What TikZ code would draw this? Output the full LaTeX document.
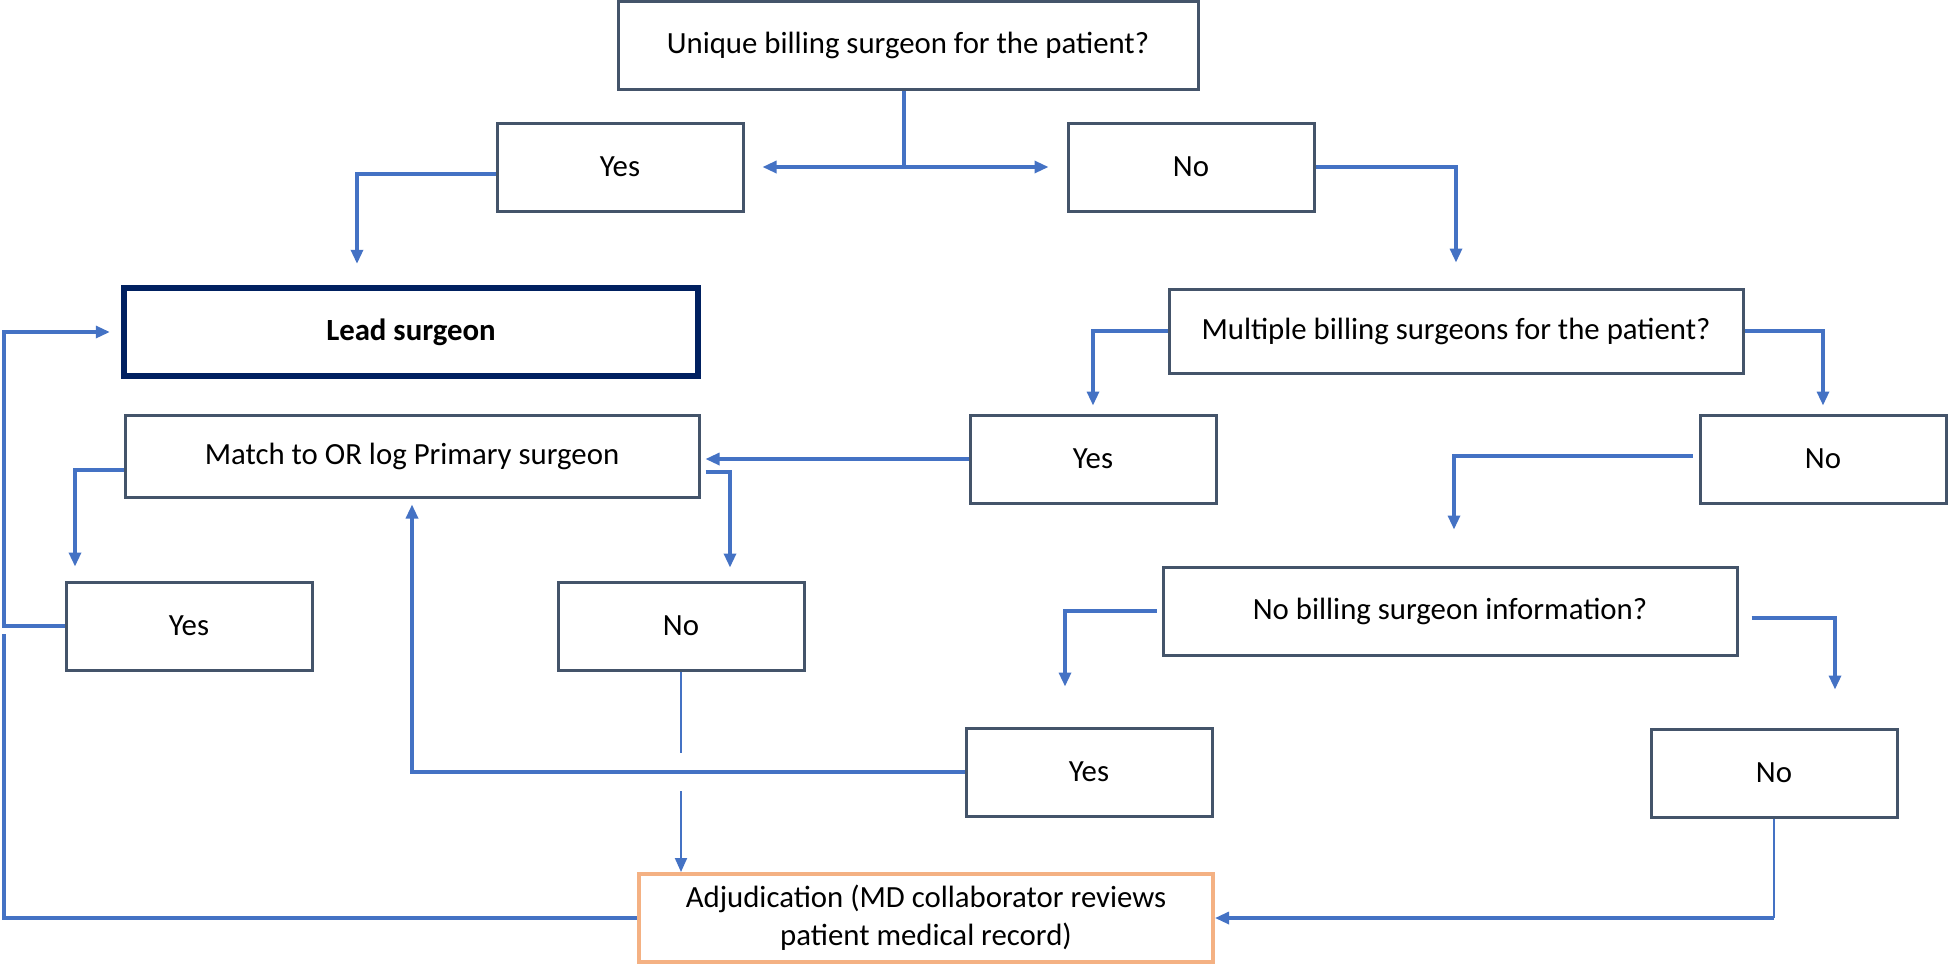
\documentclass[tikz,border=0pt]{standalone}
\usepackage{fontspec}
\setmainfont{Carlito}
\usetikzlibrary{arrows.meta}
\definecolor{linkblue}{HTML}{4472C4}
\definecolor{boxgray}{HTML}{44546A}
\definecolor{leadnavy}{HTML}{002060}
\definecolor{adjorange}{HTML}{F4B183}

\begin{document}
\begin{tikzpicture}[x=0.5pt, y=-0.5pt,
    box/.style={draw=boxgray, line width=1.5pt, minimum height=44pt, inner sep=0pt,
        align=center, font=\fontsize{15.4}{18.8}\selectfont},
    wide/.style={box, minimum width=287pt},
    small/.style={box, minimum width=123pt},
    plain/.style={draw=linkblue, line width=1.6pt},
    link/.style={plain, -{Triangle[width=6pt,length=7pt]}},
    thin/.style={draw=linkblue, line width=1pt},
    thinlink/.style={thin, -{Triangle[width=6pt,length=7pt]}}]
    \useasboundingbox (0, 0) rectangle (1949, 965);

        \node[wide, minimum width=290pt] (unique) at (908, 45) {Unique billing surgeon for the patient?};
        \node[small] (yesA) at (620, 167) {Yes};
        \node[small] (noA) at (1191, 167) {No};

        \node[wide, draw=leadnavy, line width=3.2pt, font=\fontsize{15.4}{18.8}\selectfont\bfseries] (lead) at (411, 332) {Lead surgeon};
        \node[wide, minimum height=42pt] (multi) at (1456, 331) {Multiple billing surgeons for the patient?};

        \node[small] (yesB) at (1093, 459) {Yes};
        \node[small] (noB) at (1823, 459) {No};
        \node[wide, minimum height=41pt] (match) at (412, 456) {Match to OR log Primary surgeon};

        \node[small] (yesC) at (189, 626) {Yes};
        \node[small] (noC) at (681, 626) {No};
        \node[wide] (nobill) at (1450, 611) {No billing surgeon information?};

        \node[small] (yesD) at (1089, 772) {Yes};
        \node[small] (noD) at (1774, 773) {No};
        \node[wide, draw=adjorange, line width=2pt] (adj) at (926, 918) {Adjudication (MD collaborator reviews\\patient medical record)};

        \coordinate (fork) at ([xshift=-2pt]unique.south |- yesA.east);
        \coordinate (railtop) at (4, 332);
        \coordinate (railbot) at (4, 634);

        % first question
        \draw[plain] ([xshift=-2pt]unique.south) -- (fork);
        \draw[link] (fork) -- ([xshift=9pt]yesA.east);
        \draw[link] (fork) -- ([xshift=-9pt]noA.west);
        \draw[link, shorten >=10.5pt] ([yshift=-3.5pt]yesA.west) -| ([xshift=-27pt]lead.north);
        \draw[link, shorten >=12.5pt] (noA.east) -| (multi.north);

        % second question
        \draw[link, shorten >=4pt] (multi.west) -| (yesB.north);
        \draw[link, shorten >=4pt] (multi.east) -| (noB.north);
        \draw[link, shorten >=2.5pt] (yesB.west) -- (match.east |- yesB.west);
        \draw[link, shorten >=18pt] ([xshift=-3pt, yshift=1.5pt]noB.west) -| ([xshift=2pt]nobill.north);

        % OR log match
        \draw[link, shorten >=7pt] ([yshift=-7pt]match.west) -| ([xshift=-57pt]yesC.north);
        \draw[link, shorten >=6.5pt] ([xshift=2.5pt, yshift=-8pt]match.east) -| ([xshift=24.5pt]noC.north);
        \draw[link, shorten >=5.5pt] (yesC.west) -| (railtop) -- (lead.west);
        \draw[plain] (adj.west) -| (railbot);

        % third question
        \draw[link, shorten >=20pt] ([xshift=-2.5pt]nobill.west) -| ([xshift=-12pt]yesD.north);
        \draw[link, shorten >=19pt] ([xshift=6.5pt, yshift=-3.5pt]nobill.east) -| ([xshift=30.5pt]noD.north);
        \draw[link, shorten >=3pt] (yesD.west) -| (match.south);

        \draw[thin] (noC.south) -- ([yshift=9.5pt]noC.south |- yesD.west);
        \draw[thinlink] ([yshift=-9.5pt]noC.south |- yesD.west) -- (noC.south |- adj.north);
        \draw[thin] (noD.south) -- (noD.south |- adj.east);
        \draw[link] (noD.south |- adj.east) -- (adj.east);
\end{tikzpicture}
\end{document}
